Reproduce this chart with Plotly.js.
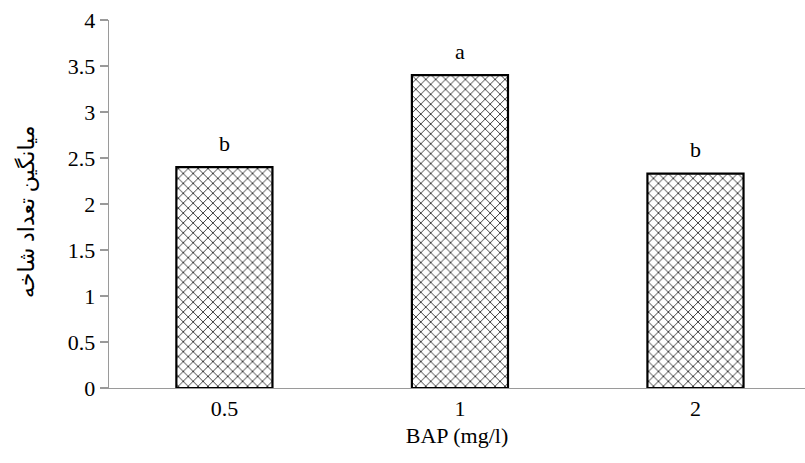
<!DOCTYPE html>
<html>
<head>
<meta charset="utf-8">
<script src="https://cdn.plot.ly/plotly-3.0.1.min.js"></script>
<style>html,body{margin:0;padding:0;background:#fff;}#chart{width:805px;height:463px;}</style>
</head>
<body>
<div id="chart"></div>
<script>
const categories = ['0.5', '1', '2'];
const meanShoots = [2.40, 3.40, 2.33];
const letters = ['b', 'a', 'b'];
const xTitle = 'BAP (mg/l)';
const yTitle = 'میانگین تعداد شاخه';

const serif = 'Liberation Serif';

const trace = {
  type: 'bar',
  x: categories,
  y: meanShoots,
  width: 0.408,
  marker: {
    color: '#ffffff',
    line: {color: '#000000', width: 2.2},
    pattern: {shape: 'x', fgcolor: '#000000', bgcolor: '#ffffff', size: 7, solidity: 0.2}
  },
  hoverinfo: 'none'
};

const annotations = categories.map((c, i) => ({
  x: i, y: meanShoots[i], xref: 'x', yref: 'y',
  text: letters[i], showarrow: false,
  yanchor: 'middle', yshift: 24,
  font: {family: serif, size: 22, color: '#000'}
}));
annotations.push({
  xref: 'paper', yref: 'paper', x: 0, y: 0.5,
  xshift: -83, yshift: -8,
  text: yTitle, textangle: -90, showarrow: false,
  xanchor: 'center', yanchor: 'middle',
  font: {family: 'Liberation Serif, DejaVu Sans', size: 22, color: '#000'}
});

const layout = {
  width: 805, height: 463,
  margin: {l: 109, r: 0, t: 20, b: 75},
  paper_bgcolor: '#fff', plot_bgcolor: '#fff',
  showlegend: false,
  font: {family: serif, color: '#000'},
  xaxis: {
    type: 'category',
    range: [-0.49, 2.465],
    showline: true, linecolor: '#9a9a9a', linewidth: 1.3,
    ticks: '', showgrid: false, zeroline: false,
    tickfont: {family: serif, size: 22, color: '#000'},
    title: {text: xTitle, font: {family: serif, size: 22, color: '#000'}, standoff: 8}
  },
  yaxis: {
    range: [0, 4], dtick: 0.5, tick0: 0,
    showline: true, linecolor: '#9a9a9a', linewidth: 1.3,
    ticks: 'outside', ticklen: 8, tickcolor: '#9a9a9a', tickwidth: 1.3,
    showgrid: false, zeroline: false,
    tickfont: {family: serif, size: 22, color: '#000'}
  },
  annotations: annotations
};

Plotly.newPlot('chart', [trace], layout, {staticPlot: true, displayModeBar: false});
</script>
</body>
</html>
